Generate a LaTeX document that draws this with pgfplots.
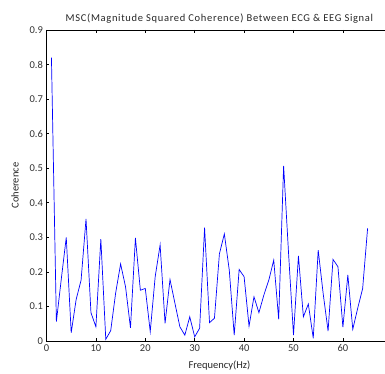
\documentclass[border=0pt]{standalone}
\usepackage{pgfplots}
\pgfplotsset{compat=1.18}
\usepackage{fontspec}
\setmainfont{Carlito}
\newfontfamily\titlefont[LetterSpace=6.5]{Carlito}
\begin{document}
\begin{tikzpicture}[x=1pt,y=1pt]
\begin{axis}[
  at={(0,0)}, anchor=south west,
  scale only axis, width=345.8pt, height=311pt,
  xmin=0, xmax=70, ymin=0, ymax=0.9,
  xtick={0,10,...,60}, ytick={0,0.1,...,0.9},
  extra x ticks={70}, extra x tick labels={},
  yticklabel style={/pgf/number format/fixed, /pgf/number format/precision=1},
  /pgf/number format/assume math mode=true,
  tick align=inside, tick pos=both,
  major tick length=3pt,
  axis line style={line width=0.8pt},
  tick style={black, line width=0.6pt},
  font=\fontsize{10.5}{12}\selectfont,
  ticklabel style={font=\fontsize{10.5}{12}\selectfont, text=black!80},
  title={\titlefont MSC(Magnitude Squared Coherence) Between ECG \& EEG Signal},
  title style={font=\fontsize{10.5}{12}\selectfont, yshift=-3pt, text=black!85},
  xlabel={Frequency(Hz)}, ylabel={Coherence},
  xlabel style={yshift=-2pt, text=black!85},
  ylabel style={yshift=4pt, text=black!85},
]
\addplot[blue, line width=0.7pt, mark=none] coordinates {
(1,0.82) (2,0.056) (3,0.18) (4,0.30) (5,0.024) (6,0.12) (7,0.176) (8,0.353) (9,0.082) (10,0.041)
(11,0.295) (12,0.005) (13,0.03) (14,0.139) (15,0.223) (16,0.157) (17,0.038) (18,0.298) (19,0.147) (20,0.152)
(21,0.027) (22,0.186) (23,0.278) (24,0.051) (25,0.178) (26,0.109) (27,0.041) (28,0.017) (29,0.070) (30,0.012)
(31,0.037) (32,0.328) (33,0.053) (34,0.066) (35,0.252) (36,0.310) (37,0.205) (38,0.017) (39,0.207) (40,0.186)
(41,0.043) (42,0.128) (43,0.082) (44,0.133) (45,0.176) (46,0.234) (47,0.063) (48,0.507) (49,0.254) (50,0.017)
(51,0.246) (52,0.070) (53,0.107) (54,0.008) (55,0.263) (56,0.138) (57,0.029) (58,0.236) (59,0.215) (60,0.040)
(61,0.191) (62,0.034) (63,0.095) (64,0.152) (65,0.326)
};
\end{axis}
\pgfresetboundingbox
\useasboundingbox (-46.5,-33) rectangle (338.5,341);
\end{tikzpicture}
\end{document}
